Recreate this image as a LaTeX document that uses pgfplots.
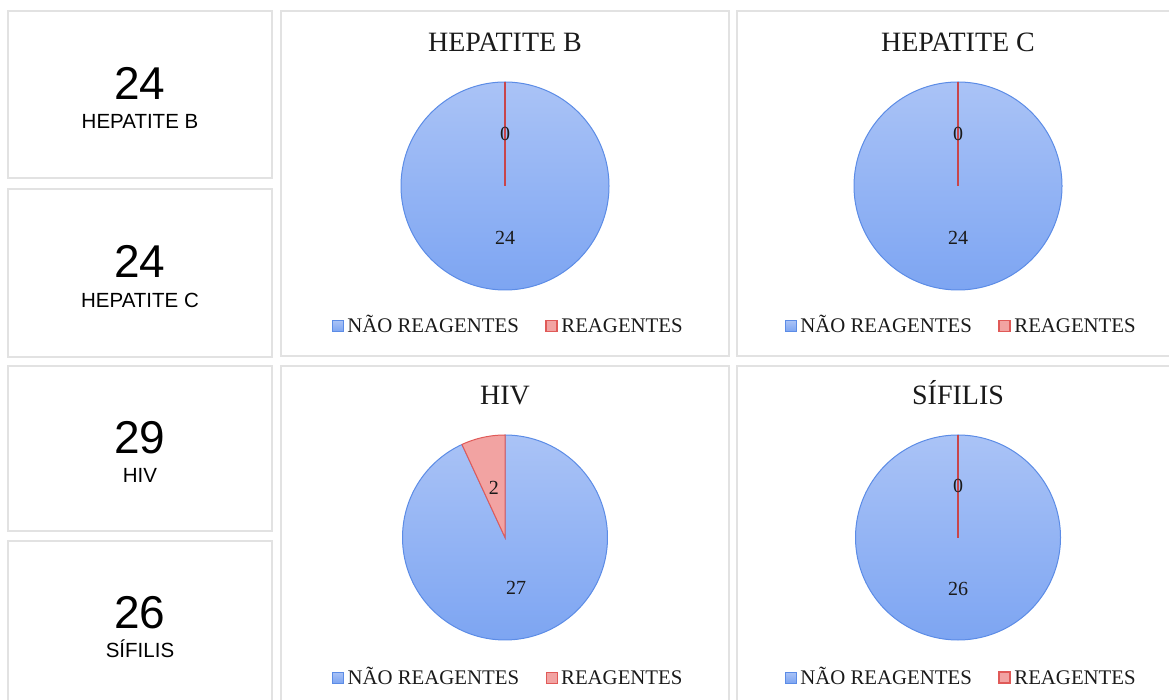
\documentclass[border=0pt]{standalone}
\usepackage{pgfplots}
\pgfplotsset{compat=1.18}
\usepackage{pgfplotstable}
\usepackage{fontspec}
\setmainfont{Liberation Serif}
\newfontfamily\arialfont{Liberation Sans}
\definecolor{pietop}{HTML}{AAC3F6}
\definecolor{piebot}{HTML}{7DA5F2}
\definecolor{piemid}{HTML}{92B3F4}
\definecolor{pieblueborder}{HTML}{5C8CE6}
\definecolor{piered}{HTML}{F2A3A2}
\definecolor{pieredborder}{HTML}{E05A58}
\definecolor{zeroline}{HTML}{C8454A}
\definecolor{panelborder}{HTML}{E2E2E2}
\definecolor{txt}{HTML}{1A1A1A}

% values: not reactive / reactive
\pgfplotstableread{
name nao reag
HepB 24 0
HepC 24 0
HIV 27 2
Sifilis 26 0
}\piedata

\newcommand{\piechart}[5]{%
 \pgfplotstablegetelem{#5}{nao}\of\piedata \edef\vN{\pgfplotsretval}%
 \pgfplotstablegetelem{#5}{reag}\of\piedata \edef\vR{\pgfplotsretval}%
 \pgfmathsetmacro\aEnd{90-360*\vN/(\vN+\vR)}%
 \pgfmathsetmacro\aMidN{90-180*\vN/(\vN+\vR)}%
 \pgfmathsetmacro\aMidR{(\aEnd-270)/2}%
 \node[anchor=base, font=\fontsize{28}{32}\selectfont, text=txt] at (#1, {#2+#3+30}) {#4};
 \begin{axis}[hide axis, scale only axis, width={2*#3 pt}, height={2*#3 pt},
   xmin=-1, xmax=1, ymin=-1, ymax=1, clip=false,
   at={(#1pt,#2pt)}, anchor=origin,
   legend columns=2,
   legend style={at={(0.5,{-0.5*(140/#3-1)})}, anchor=center, xshift=4pt,
     draw=none, fill=none,
     font=\fontsize{20.8}{24}\selectfont, text=txt,
     /tikz/every even column/.append style={column sep=23pt},
     /tikz/every odd column/.append style={column sep=0pt},
     nodes={inner xsep=3.5pt, text height=14pt, text depth=0pt}},
   ]
  \addplot[draw=pieblueborder, line width=1pt, top color=pietop, bottom color=piebot,
     domain=\aEnd:90, samples=181,
     legend image code/.code={\draw[draw=pieblueborder,fill=piemid] (0pt,-5.5pt) rectangle (11pt,5.5pt);}]
     ({cos(x)},{sin(x)}) -- (axis cs:0,0) -- cycle;
  \addlegendentry{NÃO REAGENTES}
  \ifdim\vR pt>0pt
   \addplot[draw=pieredborder, line width=1pt, fill=piered,
     domain=-270:\aEnd, samples=40,
     legend image code/.code={\draw[draw=pieredborder,fill=piered] (0pt,-5.5pt) rectangle (11pt,5.5pt);}]
     ({cos(x)},{sin(x)}) -- (axis cs:0,0) -- cycle;
  \else
   \addplot[draw=zeroline, line width=1.5pt,
     legend image code/.code={\draw[draw=pieredborder,fill=piered] (0pt,-5.5pt) rectangle (11pt,5.5pt);}]
     coordinates {(0,0) (0,1)};
  \fi
  \addlegendentry{REAGENTES}
  \node[font=\fontsize{20}{24}\selectfont, text=txt] at (axis cs:{0.5*cos(\aMidN)},{0.5*sin(\aMidN)}) {\vN};
  \node[font=\fontsize{20}{24}\selectfont, text=txt] at (axis cs:{0.5*cos(\aMidR)},{0.5*sin(\aMidR)}) {\vR};
 \end{axis}
}

\newcommand{\kpi}[4]{%
 \node[anchor=base, font=\arialfont\fontsize{46}{50}\selectfont, text=black] at (140,#2) {#1};
 \node[anchor=base, font=\arialfont\fontsize{20.5}{24}\selectfont, text=black] at (140,#4) {#3};
}

\begin{document}
\begin{tikzpicture}[x=1pt,y=1pt]
\useasboundingbox (0,0) rectangle (1169,699);
\clip (0,0) rectangle (1169,699);
\begin{scope}[draw=panelborder, line width=2pt]
\draw (8,521) rectangle (272,688);
\draw (8,342) rectangle (272,510);
\draw (8,168) rectangle (272,333);
\draw (8,-21) rectangle (272,158);
\draw (281,343) rectangle (729,688);
\draw (281,-21) rectangle (729,333);
\draw (737,343) rectangle (1190,688);
\draw (737,-21) rectangle (1190,333);
\end{scope}
\kpi{24}{599}{HEPATITE B}{570}
\kpi{24}{421}{HEPATITE C}{391}
\kpi{29}{245}{HIV}{216}
\kpi{26}{71}{SÍFILIS}{42}
\piechart{505}{513}{104}{HEPATITE B}{0}
\piechart{958}{513}{104}{HEPATITE C}{1}
\piechart{505}{161.5}{102.5}{HIV}{2}
\piechart{958}{161.5}{102.5}{SÍFILIS}{3}
\end{tikzpicture}
\end{document}
